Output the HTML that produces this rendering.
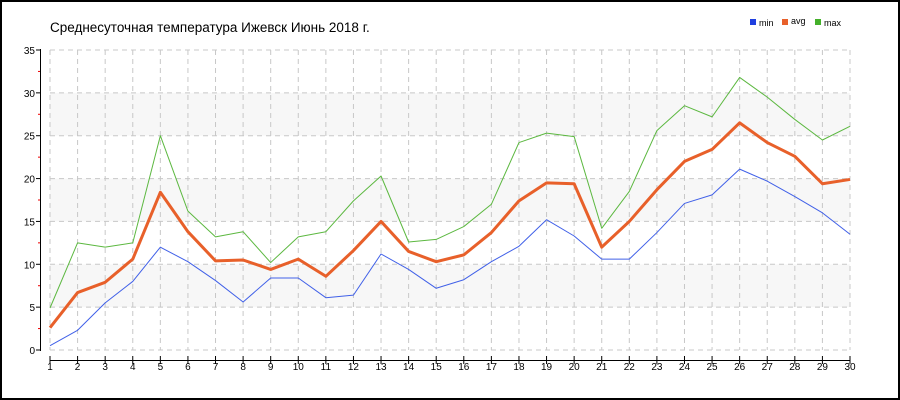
<!DOCTYPE html>
<html><head><meta charset="utf-8"><style>
html,body{margin:0;padding:0;background:#fff}
svg{display:block;font-family:"Liberation Sans","DejaVu Sans",sans-serif}
</style></head><body>
<svg id="s" width="900" height="400" xmlns="http://www.w3.org/2000/svg">
<rect x="1" y="1" width="898" height="398" fill="#fff" stroke="#000" stroke-width="2"/>
<text x="50" y="32" font-size="13.5" fill="#000">Среднесуточная температура Ижевск  Июнь 2018 г.</text>
<rect x="750" y="19" width="6" height="6" fill="#1f3fe0"/><text x="759" y="26" font-size="9">min</text>
<rect x="782" y="19" width="6" height="6" fill="#e8602a"/><text x="791" y="24" font-size="9">avg</text>
<rect x="815" y="19" width="6" height="6" fill="#44b02a"/><text x="824" y="26" font-size="9">max</text>
<g id="g"></g>
</svg>
<script>
var g=document.getElementById('g'),h='';
function X(d){return 50+(d-1)*800/29}
function Y(v){return 350-v*300/35}
[5,15,25].forEach(function(v){h+='<rect x="50" y="'+Y(v+5)+'" width="800" height="'+(300/7)+'" fill="#f7f7f7"/>'});
for(var v=0;v<=35;v+=5){h+='<line x1="50" x2="850" y1="'+Y(v)+'" y2="'+Y(v)+'" stroke="#c8c8c8" stroke-dasharray="5,4"/>';
h+='<line x1="36" x2="41" y1="'+Y(v)+'" y2="'+Y(v)+'" stroke="#000"/>';
h+='<text x="35" y="'+(Y(v)+4)+'" font-size="10" text-anchor="end">'+v+'</text>';
if(v<35)h+='<line x1="38" x2="41" y1="'+Y(v+2.5)+'" y2="'+Y(v+2.5)+'" stroke="#e00"/>';}
for(var d=1;d<=30;d++){h+='<line x1="'+X(d)+'" x2="'+X(d)+'" y1="50" y2="350" stroke="#c8c8c8" stroke-dasharray="5,4"/>';
h+='<line x1="'+X(d)+'" x2="'+X(d)+'" y1="356" y2="364" stroke="#000"/>';
h+='<text x="'+X(d)+'" y="370" font-size="10" text-anchor="middle">'+d+'</text>';}
h+='<line x1="40.5" x2="40.5" y1="49" y2="351" stroke="#000"/>';
h+='<line x1="50" x2="850" y1="360.5" y2="360.5" stroke="#000"/>';
var mn=[0.5,2.3,5.5,8,12,10.3,8.1,5.6,8.4,8.4,6.1,6.4,11.2,9.4,7.2,8.2,10.3,12.1,15.2,13.3,10.6,10.6,13.7,17.1,18.1,21.1,19.7,17.9,16.0,13.5];
var av=[2.6,6.7,7.9,10.6,18.4,13.8,10.4,10.5,9.4,10.6,8.6,11.6,15,11.5,10.3,11.1,13.7,17.4,19.5,19.4,12,15,18.7,22,23.4,26.5,24.2,22.6,19.4,19.9];
var mx=[4.9,12.5,12,12.5,25,16.2,13.2,13.8,10.2,13.2,13.8,17.4,20.3,12.6,12.9,14.4,17,24.2,25.3,24.9,14.2,18.5,25.6,28.5,27.2,31.8,29.5,26.9,24.5,26.1];
function P(a,c,w){return '<polyline fill="none" stroke="'+c+'" stroke-width="'+w+'" stroke-linejoin="round" points="'+a.map(function(v,i){return X(i+1)+','+Y(v)}).join(' ')+'"/>'}
h+=P(mn,'#4060e8',1)+P(mx,'#5cb840',1)+P(av,'#e8602a',3);
g.innerHTML=h;
</script>
</body></html>
